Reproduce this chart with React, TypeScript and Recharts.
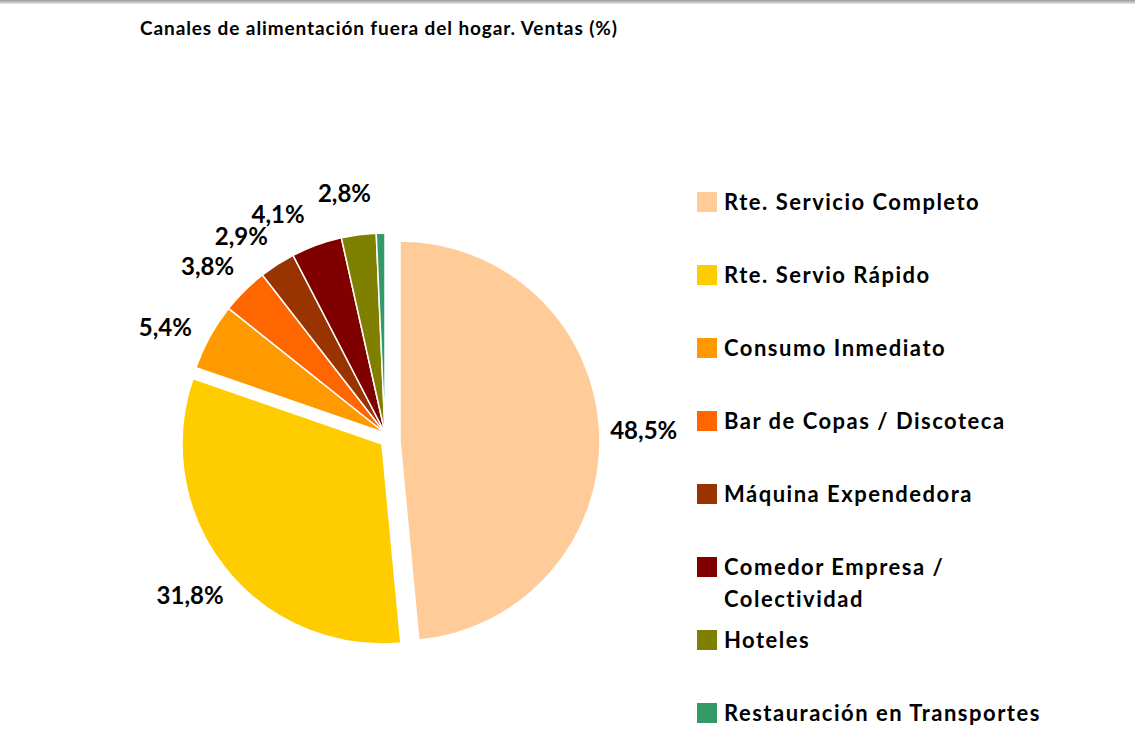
import { PieChart, Pie, Cell } from "recharts";

const categories = [
  "Rte. Servicio Completo",
  "Rte. Servio Rápido",
  "Consumo Inmediato",
  "Bar de Copas / Discoteca",
  "Máquina Expendedora",
  "Comedor Empresa / Colectividad",
  "Hoteles",
  "Restauración en Transportes",
];
const ventas = [48.5, 31.8, 5.4, 3.8, 2.9, 4.1, 2.8, 0.7];
const showLabel = [true, true, true, true, true, true, true, false];
const colors = ["#FFCC99", "#FFCC00", "#FF9900", "#FF6600", "#993300", "#800000", "#808000", "#339966"];
// small angular nudges (deg) so the crowded labels spread out like Excel's best-fit
const labelNudge = [0, 0, 3, 2, 3.5, 6, 2, 0];

// which slices each pie layer draws (exploded slices get their own center)
const groups = [
  { members: [0], cx: 395, cy: 436 },
  { members: [1], cx: 377, cy: 439 },
  { members: [2, 3, 4, 5, 6, 7], cx: 380, cy: 428 },
];

const slices = categories.map((name, i) => ({ name, value: ventas[i] }));
const RADIAN = Math.PI / 180;
const FONT = "Lato, 'Open Sans', sans-serif";

const makeLabel = (members: number[]) => (props: any) => {
  const { cx, cy, midAngle, outerRadius, index, value } = props;
  if (!members.includes(index) || !showLabel[index]) return null;
  const r = outerRadius + 44;
  const a = (midAngle + labelNudge[index]) * RADIAN;
  const x = cx + r * Math.cos(-a);
  const y = cy + r * Math.sin(-a);
  return (
    <text
      key={`lbl-${index}`}
      x={x}
      y={y}
      textAnchor="middle"
      dominantBaseline="central"
      fill="#000"
      fontFamily={FONT}
      fontWeight={700}
      fontSize={24}
    >
      {value.toFixed(1).replace(".", ",")}%
    </text>
  );
};

export default function App() {
  return (
    <div style={{ position: "fixed", left: 0, top: 0, width: 1135, height: 731, background: "#fff", overflow: "hidden" }}>
      <div style={{ position: "absolute", left: 0, top: 0, width: 1135, height: 4, background: "linear-gradient(#9a9a9a, #e6e6e6)" }} />
      <div
        style={{
          position: "absolute",
          left: 140,
          top: 16,
          fontFamily: FONT,
          fontWeight: 700,
          fontSize: 19,
          letterSpacing: 0.9,
          color: "#000",
          whiteSpace: "nowrap",
        }}
      >
        Canales de alimentación fuera del hogar. Ventas (%)
      </div>
      <PieChart width={1135} height={731} style={{ position: "absolute", left: 0, top: 0 }}>
        {groups.map((g, gi) => (
          <Pie
            key={gi}
            data={slices}
            dataKey="value"
            nameKey="name"
            cx={g.cx}
            cy={g.cy}
            outerRadius={200}
            startAngle={90}
            endAngle={-270}
            isAnimationActive={false}
            labelLine={false}
            label={makeLabel(g.members)}
          >
            {slices.map((s, i) => (
              <Cell
                key={s.name}
                fill={g.members.includes(i) ? colors[i] : "none"}
                stroke={g.members.includes(i) ? "#fff" : "none"}
                strokeWidth={1.5}
              />
            ))}
          </Pie>
        ))}
      </PieChart>
      <div
        style={{
          position: "absolute",
          left: 697,
          top: 186,
          fontFamily: FONT,
          fontWeight: 700,
          fontSize: 22,
          letterSpacing: 1.5,
          color: "#000",
        }}
      >
        {categories.map((name, i) => (
          <div key={name} style={{ position: "relative", height: 73, paddingLeft: 27 }}>
            <div style={{ position: "absolute", left: 0, top: 6, width: 20, height: 20, background: colors[i] }} />
            <div style={{ width: 332, lineHeight: "32px" }}>{name}</div>
          </div>
        ))}
      </div>
    </div>
  );
}
